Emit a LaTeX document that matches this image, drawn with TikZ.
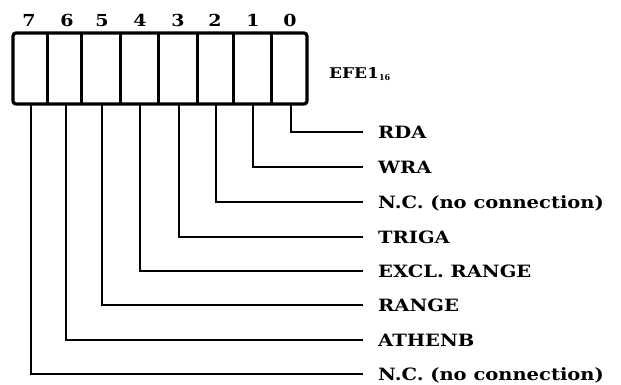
\documentclass[tikz,border=0pt]{standalone}
\usepackage{graphicx}
\usepackage{fontspec}
\setmainfont{DejaVu Serif}
\newcommand\sq[1]{\scalebox{1}[0.87]{#1}}
\begin{document}
\begin{tikzpicture}[x=1pt,y=-1pt,
  lbl/.style={anchor=base west,inner sep=0pt,font=\fontsize{19.5}{22}\selectfont\bfseries},
  bitnum/.style={anchor=base,inner sep=0pt,font=\fontsize{19}{22}\selectfont\bfseries},
  cell/.style={draw=none,inner sep=0pt,minimum height=71pt},
  lead/.style={line width=1.8pt,line join=miter},
  boxline/.style={line width=3.2pt}]
\useasboundingbox (0,0) rectangle (621,384);
% cells (left edge / right edge)
\foreach \i/\l/\r in {7/13/48,6/48/82,5/82/121,4/121/159,3/159/198,2/198/234,1/234/272,0/272/307}{
  \node[cell,minimum width={\r-\l}] (c\i) at ({(\l+\r)/2},68.5) {};
}
\draw[boxline,rounded corners=3pt] (13,33) rectangle (307,104);
\foreach \i in {6,5,4,3,2,1,0}{
  \draw[boxline] (c\i.north west) -- (c\i.south west);
}
% bit numbers
\foreach \i/\x in {7/29,6/67,5/102,4/140,3/178,2/215,1/253,0/290}{
  \node[bitnum] (n\i) at (\x,26) {\sq{\i}};
}
\node[lbl,font=\fontsize{17}{20}\selectfont\bfseries] (reg) at (329,78) {\sq{EFE1}\raisebox{-2.5pt}{\fontsize{8}{8}\selectfont 16}};
% labels
\foreach \i/\y/\t in {0/132/RDA,1/167/WRA,2/202/N.C. (no connection),3/237/TRIGA,4/271/EXCL. RANGE,5/305/RANGE,6/340/ATHENB,7/374/N.C. (no connection)}{
  \node[lbl] (l\i) at (378,\y+6.3) {\sq{\t}};
  \coordinate (e\i) at (363,\y);
}
\foreach \i/\x in {7/31,6/66,5/102,4/140,3/179,2/216,1/253,0/291}{
  \coordinate (s\i) at (\x,104);
  \draw[lead] (s\i) |- (e\i);
}
\end{tikzpicture}
\end{document}
